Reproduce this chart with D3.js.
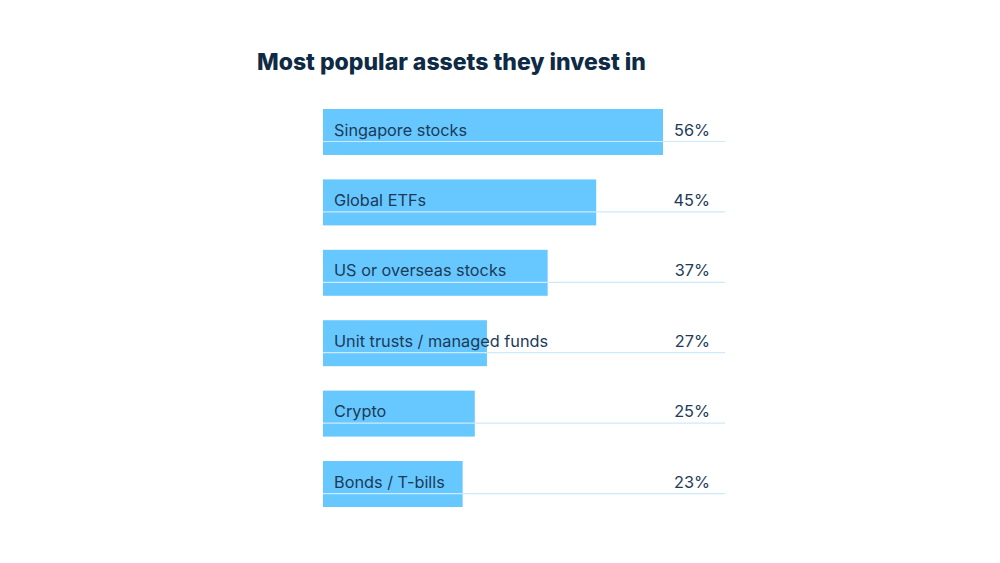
<!DOCTYPE html>
<html>
<head>
<meta charset="utf-8">
<script src="https://cdn.jsdelivr.net/npm/d3@7"></script>
<style>
  body { margin: 0; background: #fff; }
  text { font-family: "Inter", "Noto Sans", sans-serif; }
</style>
</head>
<body>
<svg id="chart" width="1000" height="563"></svg>
<script>
// data
const assets = ["Singapore stocks", "Global ETFs", "US or overseas stocks",
  "Unit trusts / managed funds", "Crypto", "Bonds / T-bills"];
const shares = [56, 45, 37, 27, 25, 23];

const svg = d3.select('#chart');

svg.append('text')
  .attr('x', 257)
  .attr('y', 70)
  .attr('font-size', 23)
  .attr('font-weight', 800)
  .attr('fill', '#0e2a45')
  .text('Most popular assets they invest in');

let x = d3.scaleLinear()
  .domain([0, 56])
  .range([323, 663]);

let y = d3.scaleBand()
  .domain(assets)
  .range([109, 507])
  .paddingInner(0.347)
  .paddingOuter(0);

let rows = svg.selectAll('g.row')
  .data(assets)
  .enter()
  .append('g')
  .attr('class', 'row')
  .attr('transform', d => `translate(0,${y(d)})`);

// bar
rows.append('rect')
  .attr('x', x(0))
  .attr('y', 0)
  .attr('width', (d, i) => x(shares[i]) - x(0))
  .attr('height', y.bandwidth())
  .attr('fill', '#66c8ff');

// thin rule across each row
rows.append('line')
  .attr('x1', x(0))
  .attr('x2', 725)
  .attr('y1', 32.5)
  .attr('y2', 32.5)
  .attr('stroke', '#cdeafc')
  .attr('stroke-width', 1.2);

rows.append('text')
  .attr('x', 334)
  .attr('y', 26.5)
  .attr('font-size', 16.3)
  .attr('fill', '#1d3a58')
  .text(d => d);

rows.append('text')
  .attr('x', 710)
  .attr('y', 26.5)
  .attr('text-anchor', 'end')
  .attr('font-size', 16.3)
  .attr('fill', '#1d3a58')
  .text((d, i) => shares[i] + '%');
</script>
</body>
</html>
